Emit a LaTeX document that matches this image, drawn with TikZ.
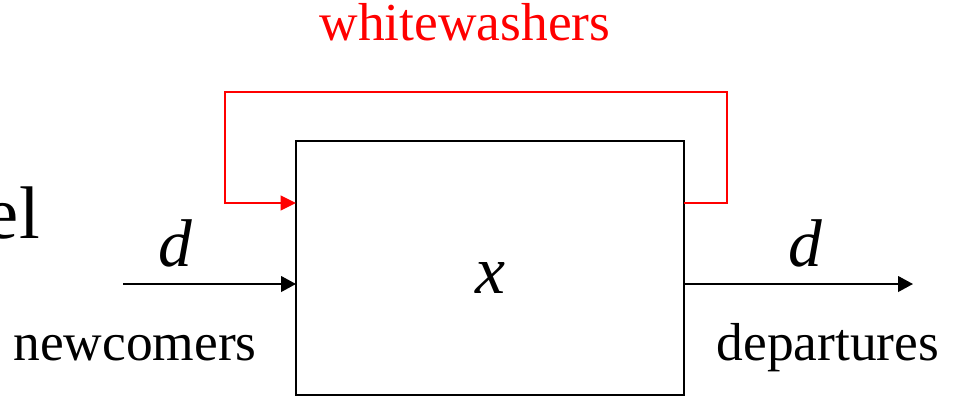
\documentclass[tikz,border=0pt]{standalone}
\usepackage{fontspec}
\setmainfont{Liberation Serif}
\usetikzlibrary{arrows.meta,positioning}
\definecolor{washred}{HTML}{FF0000}
\tikzset{
  sysbox/.style={draw=black,line width=1.4pt,minimum width=9.7cm,minimum height=6.35cm,inner sep=0pt},
  flowarrow/.style={-{Triangle[length=10.5pt,width=11pt]},line width=1.4pt,draw=black},
  washarrow/.style={-{Triangle[length=11pt,width=10.5pt]},line width=1.4pt,draw=washred},
  bigtext/.style={font=\fontsize{38}{44}\selectfont,inner sep=0pt},
  symtext/.style={font=\fontsize{48}{54}\selectfont\itshape,inner sep=0pt}
}
\begin{document}
\begin{tikzpicture}[x=0.025cm,y=-0.025cm]
\useasboundingbox (0,0) rectangle (954,397);
\node[sysbox] (sys) at (490,268) {};
\node[symtext] (state) at (490,278) {x};
% flow in and out
\coordinate (src) at (123,284);
\coordinate (inL) at (296,284);
\coordinate (outR) at (684,284);
\coordinate (sink) at (913,284);
\draw[flowarrow] (src) -- (inL);
\draw[flowarrow] (outR) -- (sink);
\node[symtext] (din) at (175,243) {d};
\node[symtext] (dout) at (805,243) {d};
\node[bigtext,anchor=base] (newc) at (135,360) {newcomers};
\node[bigtext,anchor=base] (dep) at (828,360) {departures};
% whitewashing loop
\coordinate (wout) at (684,203);
\coordinate (win) at (296,203);
\coordinate (wr) at (727,203);
\coordinate (wtr) at (727,92);
\coordinate (wtl) at (225,92);
\coordinate (wl) at (225,203);
\draw[washarrow] (wout) -- (wr) -- (wtr) -- (wtl) -- (wl) -- (win);
\node[bigtext,text=washred,anchor=base] (wash) at (465,40) {whitewashers};
\node[font=\fontsize{53}{60}\selectfont,inner sep=0pt,anchor=base east] (cut) at (40,238) {el};
\end{tikzpicture}
\end{document}
